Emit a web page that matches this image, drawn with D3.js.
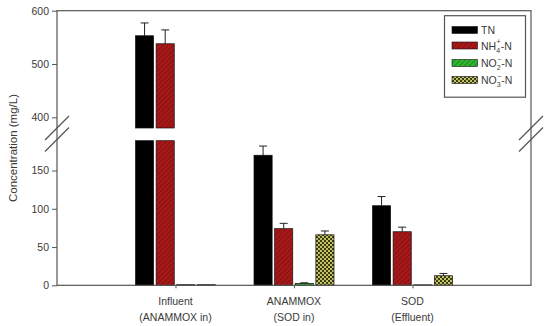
<!DOCTYPE html>
<html>
<head>
<meta charset="utf-8">
<script src="https://cdn.jsdelivr.net/npm/d3@7"></script>
<style>
  body { margin: 0; background: #fff; }
  svg text { font-family: "Liberation Sans", Arial, sans-serif; fill: #3a3a3a; }
</style>
</head>
<body>
<div id="chart"></div>
<script>
// data
var groups = ["Influent|(ANAMMOX in)", "ANAMMOX|(SOD in)", "SOD|(Effluent)"];
var series = ["TN", "NH4", "NO2", "NO3"];
var TN  = [553, 170, 104];
var NH4 = [538, 74, 70];
var NO2 = [0.8, 2.5, 0.6];
var NO3 = [0.8, 66, 12.5];
var TN_sd  = [24, 12, 12];
var NH4_sd = [26, 7, 6];
var NO2_sd = [0, 0.8, 0];
var NO3_sd = [0, 5, 3];
var lowTicks = [0, 50, 100, 150];
var highTicks = [400, 500, 600];

var chart = function(){
    var width = 550, height = 326;
    var left = 57, right = 531, top = 10.7, bottom = 285.3;
    var svg = d3.select("#chart").append("svg")
                .attr("width", width)
                .attr("height", height);

    var defs = svg.append("defs");
    var p1 = defs.append("pattern").attr("id", "hRed")
                 .attr("patternUnits", "userSpaceOnUse")
                 .attr("width", 3.5).attr("height", 3.5)
                 .attr("patternTransform", "rotate(45)");
    p1.append("rect").attr("width", 3.5).attr("height", 3.5).attr("fill", "#a81818");
    p1.append("line").attr("x1", 0).attr("y1", 0).attr("x2", 0).attr("y2", 3.5)
      .attr("stroke", "#5e0c0c").attr("stroke-width", 1);
    var p2 = defs.append("pattern").attr("id", "hGreen")
                 .attr("patternUnits", "userSpaceOnUse")
                 .attr("width", 3.5).attr("height", 3.5)
                 .attr("patternTransform", "rotate(45)");
    p2.append("rect").attr("width", 3.5).attr("height", 3.5).attr("fill", "#2fb52f");
    p2.append("line").attr("x1", 0).attr("y1", 0).attr("x2", 0).attr("y2", 3.5)
      .attr("stroke", "#0b5e0b").attr("stroke-width", 1);
    var p3 = defs.append("pattern").attr("id", "chk")
                 .attr("patternUnits", "userSpaceOnUse")
                 .attr("width", 4).attr("height", 4);
    p3.append("rect").attr("width", 4).attr("height", 4).attr("fill", "#c4c266");
    p3.append("rect").attr("width", 2).attr("height", 2).attr("fill", "#3c3c14");
    p3.append("rect").attr("x", 2).attr("y", 2).attr("width", 2).attr("height", 2).attr("fill", "#3c3c14");

    var fills = {TN: "#000", NH4: "url(#hRed)", NO2: "url(#hGreen)", NO3: "url(#chk)"};
    var vals = {TN: TN, NH4: NH4, NO2: NO2, NO3: NO3};
    var sds = {TN: TN_sd, NH4: NH4_sd, NO2: NO2_sd, NO3: NO3_sd};

    var xScale = d3.scaleLinear().domain([0, 4]).range([left, right]);
    var sub = d3.scaleBand().domain(series).range([-40, 40]).paddingInner(0.12);
    var yLow = d3.scaleLinear().domain([0, 189]).range([bottom, 140.7]);
    var yHigh = d3.scaleLinear().domain([380, 600]).range([128, top]);
    var yOf = function(v){ return v <= 189 ? yLow(v) : yHigh(v); };

    // bars
    var g = svg.append("g");
    series.forEach(function(s){
        groups.forEach(function(grp, i){
            var v = vals[s][i];
            var x0 = xScale(i + 1) + sub(s);
            var bw = sub.bandwidth();
            var parts = v <= 189 ? [[0, v, yLow]] : [[0, 189, yLow], [380, v, yHigh]];
            parts.forEach(function(p){
                g.append("rect")
                 .attr("x", x0).attr("width", bw)
                 .attr("y", p[2](p[1]))
                 .attr("height", Math.max(0.8, p[2](p[0]) - p[2](p[1])))
                 .attr("fill", fills[s])
                 .attr("stroke", "#111").attr("stroke-width", 0.7);
            });
            var sd = sds[s][i];
            if (sd > 0) {
                var cx = x0 + bw / 2;
                g.append("line").attr("x1", cx).attr("x2", cx)
                 .attr("y1", yOf(v)).attr("y2", yOf(v + sd))
                 .attr("stroke", "#222").attr("stroke-width", 1);
                g.append("line").attr("x1", cx - 4).attr("x2", cx + 4)
                 .attr("y1", yOf(v + sd)).attr("y2", yOf(v + sd))
                 .attr("stroke", "#222").attr("stroke-width", 1);
            }
        });
    });

    // frame
    svg.append("rect").attr("x", left).attr("y", top)
       .attr("width", right - left).attr("height", bottom - top)
       .attr("fill", "none").attr("stroke", "#555").attr("stroke-width", 1.2);

    // y axes (two segments)
    var ax1 = svg.append("g").attr("transform", "translate(" + left + ",0)")
                 .call(d3.axisLeft(yLow).tickValues(lowTicks).tickSize(5).tickSizeOuter(0));
    var ax2 = svg.append("g").attr("transform", "translate(" + left + ",0)")
                 .call(d3.axisLeft(yHigh).tickValues(highTicks).tickSize(5).tickSizeOuter(0));
    [ax1, ax2].forEach(function(a){
        a.select(".domain").remove();
        a.selectAll("line").attr("stroke", "#555");
        a.selectAll("text").attr("font-size", 10.5).attr("fill", "#3a3a3a").attr("x", -8)
         .style("font-family", "'Liberation Sans', Arial, sans-serif");
    });

    // x axis ticks
    var axX = svg.append("g").attr("transform", "translate(0," + bottom + ")")
                 .call(d3.axisBottom(xScale).tickValues([1, 2, 3]).tickSize(3).tickFormat(""));
    axX.select(".domain").remove();
    axX.selectAll("line").attr("stroke", "#555");
    groups.forEach(function(grp, i){
        var lines = grp.split("|");
        var t = svg.append("text").attr("text-anchor", "middle").attr("font-size", 10.5);
        t.append("tspan").attr("x", xScale(i + 1)).attr("y", 304.5).text(lines[0]);
        t.append("tspan").attr("x", xScale(i + 1)).attr("y", 320.5).text(lines[1]);
    });

    // axis break marks
    [left, right].forEach(function(xb){
        [0, 11.5].forEach(function(off){
            svg.append("line")
               .attr("x1", xb - 12).attr("y1", 140 + off)
               .attr("x2", xb + 12).attr("y2", 116 + off)
               .attr("stroke", "#555").attr("stroke-width", 1.2);
        });
    });

    // y title
    svg.append("text")
       .attr("transform", "translate(17," + 148 + ") rotate(-90)")
       .attr("text-anchor", "middle").attr("font-size", 11.5)
       .text("Concentration (mg/L)");

    // legend
    var lg = svg.append("g");
    lg.append("rect").attr("x", 444.5).attr("y", 15.7).attr("width", 81).attr("height", 81.5)
      .attr("fill", "#fff").attr("stroke", "#555").attr("stroke-width", 1.2);
    var rowsY = [30, 45.5, 63, 80];
    var labels = [
        [["TN", null]],
        [["NH", null], ["4", "sub"], ["+", "sup"], ["-N", "back"]],
        [["NO", null], ["2", "sub"], ["\u2212", "sup"], ["-N", "back"]],
        [["NO", null], ["3", "sub"], ["\u2212", "sup"], ["-N", "back"]]
    ];
    series.forEach(function(s, i){
        lg.append("rect").attr("x", 452).attr("y", rowsY[i] - 3.5)
          .attr("width", 25.5).attr("height", 7)
          .attr("fill", fills[s]).attr("stroke", "#111").attr("stroke-width", 0.6);
        var t = lg.append("text").attr("x", 481).attr("y", rowsY[i] + 4).attr("font-size", 10.5);
        labels[i].forEach(function(p){
            var ts = t.append("tspan").text(p[0]);
            if (p[1] == "sub") ts.attr("dy", 3).attr("font-size", 7);
            if (p[1] == "sup") ts.attr("dx", -3.5).attr("dy", -8.5).attr("font-size", 7);
            if (p[1] == "back") ts.attr("dy", 5.5);
        });
    });
};
chart();
</script>
</body>
</html>
